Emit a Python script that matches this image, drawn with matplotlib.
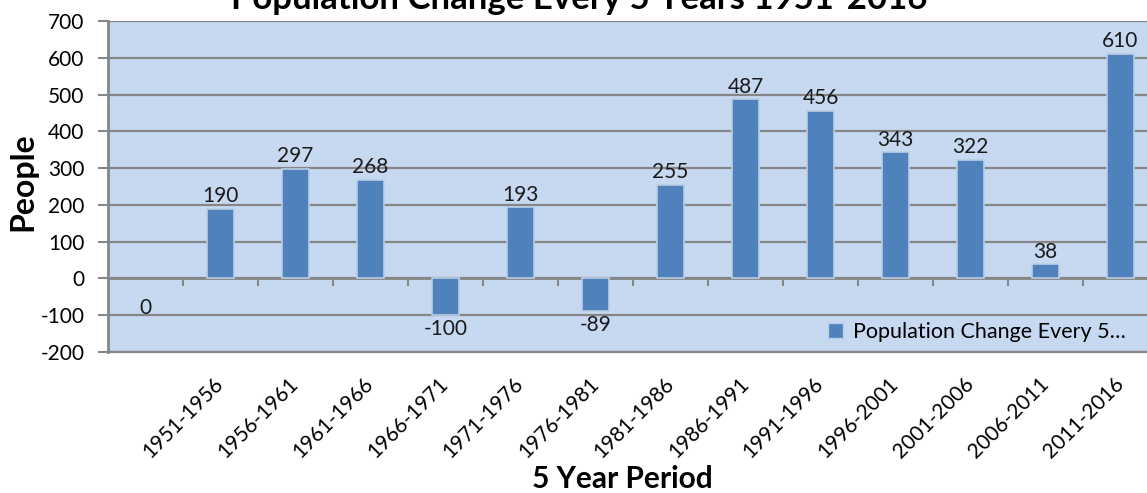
import numpy as np
import matplotlib
matplotlib.use('Agg')
import matplotlib.pyplot as plt
from matplotlib.patches import Patch

plt.rcParams['font.family'] = ['Lato', 'DejaVu Sans']
plt.rcParams['axes.unicode_minus'] = False

# Data
periods = ['', '1951-1956', '1956-1961', '1961-1966', '1966-1971', '1971-1976',
           '1976-1981', '1981-1986', '1986-1991', '1991-1996', '1996-2001',
           '2001-2006', '2006-2011', '2011-2016']
change = [0, 190, 297, 268, -100, 193, -89, 255, 487, 456, 343, 322, 38, 610]

bg = '#C6D9F1'
bar_col = '#4F81BD'
edge_col = '#B9CDE5'
grid_col = '#868686'
fs = 15

fig = plt.figure(figsize=(11.47, 4.93), dpi=100)
W, H = 1147, 493
left, right, top, bottom = 108, 1158, 21, 352
ax = fig.add_axes([left / W, 1 - bottom / H, (right - left) / W, (bottom - top) / H])
ax.set_facecolor(bg)

x = np.arange(len(change))
edges = [edge_col if v != 0 else 'none' for v in change]
ax.bar(x, change, width=0.37, color=bar_col, edgecolor=edges, linewidth=1.2, zorder=3)

ax.set_xlim(-0.5, len(change) - 0.5)
ax.set_ylim(-200, 700)
ax.set_yticks(np.arange(-200, 701, 100))
ax.yaxis.grid(True, color=grid_col, linewidth=1.6, zorder=1)
ax.tick_params(axis='y', labelsize=fs, length=7, width=1.5, color=grid_col, pad=10)

for s in ['top', 'right']:
    ax.spines[s].set_visible(False)
ax.spines['left'].set_color(grid_col)
ax.spines['left'].set_linewidth(2)
ax.spines['bottom'].set_color(grid_col)
ax.spines['bottom'].set_linewidth(1.6)

# category labels at the bottom, no tick marks
ax.set_xticks(x)
ax.set_xticklabels(periods, rotation=45, ha='right', va='center', rotation_mode='anchor')
ax.tick_params(axis='x', length=0, labelsize=fs, pad=21)

# zero axis with tick marks between categories
sec = ax.secondary_xaxis(2 / 9)
sec.set_xticks(np.arange(0.5, len(change) - 1, 1.0))
sec.set_xticklabels([])
sec.spines['bottom'].set_color(grid_col)
sec.spines['bottom'].set_linewidth(2)
sec.tick_params(axis='x', direction='out', length=6, width=1.5, color=grid_col)

# value labels
for xi, v in zip(x, change):
    if v > 0:
        ax.annotate(str(v), (xi, v), xytext=(0, 2), textcoords='offset points',
                    ha='center', va='bottom', fontsize=fs, color='#1a1a1a', zorder=4)
    else:
        ax.annotate(str(v), (xi, v), xytext=(0, -14 if v == 0 else -3),
                    textcoords='offset points', ha='center', va='top', fontsize=fs,
                    color='#1a1a1a', zorder=4)

ax.set_ylabel('People', fontsize=23, fontweight='bold')
ax.yaxis.set_label_coords(-(left - 37) / (right - left), (bottom - 182) / (bottom - top))
ax.set_xlabel('5 Year Period', fontsize=21.5, fontweight='bold')
ax.xaxis.set_label_coords((622 - left) / (right - left), -(465 - bottom) / (bottom - top))

fig.text(579 / W, 1 - 9 / H, 'Population Change Every 5 Years 1951-2016',
         ha='center', va='baseline', fontsize=25, fontweight='bold')

ax.legend([Patch(facecolor=bar_col, edgecolor=edge_col)], ['Population Change Every 5…'],
          loc='center left', bbox_to_anchor=((828 - left) / (right - left), (bottom - 332) / (bottom - top)),
          frameon=False, fontsize=15.5, handlelength=0.7, handleheight=0.7, handletextpad=0.45,
          borderpad=0, borderaxespad=0)

fig.savefig('out.png', dpi=100)
